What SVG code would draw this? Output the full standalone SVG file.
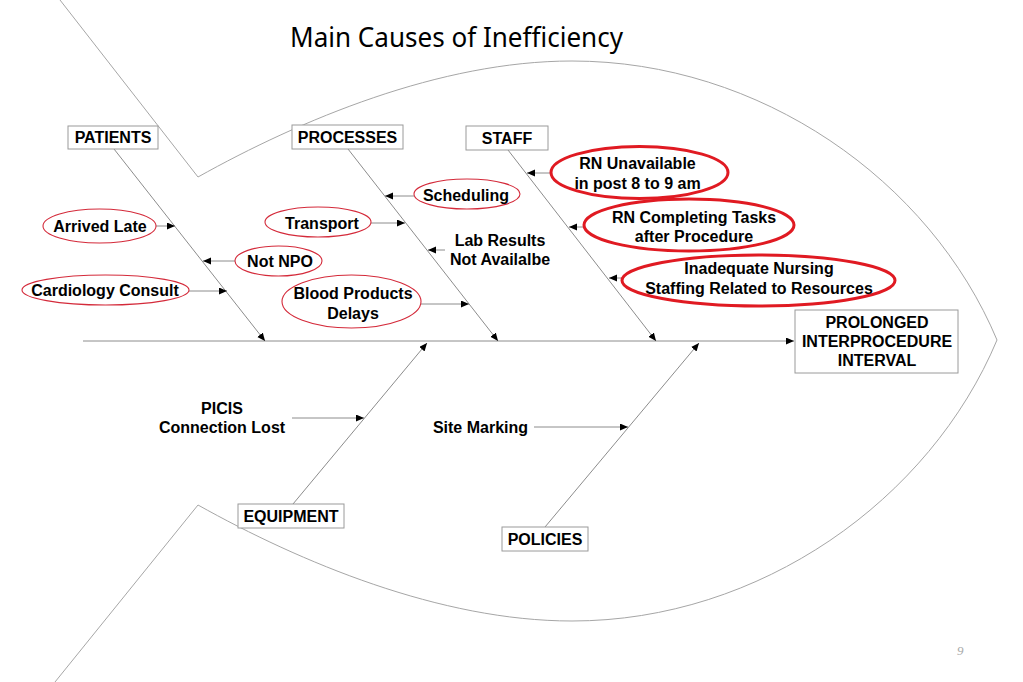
<svg xmlns="http://www.w3.org/2000/svg" width="1023" height="682" viewBox="0 0 1023 682">
<defs>
<marker id="arr" markerUnits="userSpaceOnUse" markerWidth="9" markerHeight="8" refX="8" refY="3.5" orient="auto">
<path d="M0,0 L8,3.5 L0,7 z" fill="#000"/>
</marker>
<style>
.fish{fill:none;stroke:#a6a6a6;stroke-width:1}
.bone{fill:none;stroke:#8c8c8c;stroke-width:1}
.con{fill:none;stroke:#8c8c8c;stroke-width:1;marker-end:url(#arr)}
.box{fill:#fff;stroke:#9a9a9a;stroke-width:1}
.ell{fill:#fff;stroke:#d42a3a;stroke-width:1.1}
.ellb{fill:#fff;stroke:#e01a22;stroke-width:3}
.t{font-family:"Liberation Sans",Arial,sans-serif;font-weight:bold;font-size:16px;fill:#000;text-anchor:middle}
.title{font-family:"Noto Sans","Open Sans",sans-serif;font-size:27px;fill:#000}
.pg{font-family:"Liberation Serif",serif;font-style:italic;font-size:13px;fill:#aaa}
</style>
</defs>
<rect width="1023" height="682" fill="#fff"/>
<text class="title" x="290" y="47" textLength="333" lengthAdjust="spacingAndGlyphs">Main Causes of Inefficiency</text>
<g id="fish">
<path class="fish" d="M60,0 L198,177 C300,120 440,61 572,61 C760,61 930,180 997,340 C930,500 760,621 572,621 C440,621 300,562 198,505 L55,682"/>
</g>
<g id="connectors">
<line class="con" x1="83" y1="341" x2="794" y2="341"/>
<line class="con" x1="114" y1="149" x2="265" y2="341"/>
<line class="con" x1="348" y1="149" x2="498" y2="341"/>
<line class="con" x1="508" y1="150" x2="656" y2="341"/>
<line class="con" x1="293" y1="504" x2="427" y2="343"/>
<line class="con" x1="545" y1="527" x2="699" y2="343"/>
<line class="con" x1="156" y1="226" x2="175" y2="226"/>
<line class="con" x1="235" y1="261" x2="203" y2="261"/>
<line class="con" x1="189" y1="291" x2="227" y2="291"/>
<line class="con" x1="414" y1="196" x2="385" y2="196"/>
<line class="con" x1="371" y1="223" x2="405" y2="223"/>
<line class="con" x1="445" y1="250" x2="428" y2="250"/>
<line class="con" x1="421" y1="304" x2="469" y2="304"/>
<line class="con" x1="568" y1="173" x2="527" y2="173"/>
<line class="con" x1="605" y1="227" x2="569" y2="227"/>
<line class="con" x1="637" y1="278" x2="609" y2="278"/>
<line class="con" x1="292" y1="418" x2="364" y2="418"/>
<line class="con" x1="534" y1="427" x2="628" y2="427"/>
</g>
<g id="patients"><rect class="box" x="68" y="126" width="90" height="23"/><text class="t" x="113" y="143">PATIENTS</text></g>
<g id="processes"><rect class="box" x="292" y="125" width="111" height="24"/><text class="t" x="347.5" y="143">PROCESSES</text></g>
<g id="staff"><rect class="box" x="466" y="126" width="82" height="24"/><text class="t" x="507" y="144">STAFF</text></g>
<g id="equipment"><rect class="box" x="238" y="504" width="106" height="24"/><text class="t" x="291" y="522">EQUIPMENT</text></g>
<g id="policies"><rect class="box" x="502" y="527" width="86" height="24"/><text class="t" x="545" y="545">POLICIES</text></g>
<g id="effect"><rect class="box" x="795" y="310" width="163" height="63"/>
<text class="t" x="877" y="327.5">PROLONGED</text>
<text class="t" x="877" y="346.5">INTERPROCEDURE</text>
<text class="t" x="877" y="366">INTERVAL</text></g>
<g id="arrived-late"><ellipse class="ell" cx="99.5" cy="226" rx="56.5" ry="17"/><text class="t" x="100" y="231.5">Arrived Late</text></g>
<g id="not-npo"><ellipse class="ell" cx="278.5" cy="261" rx="43.5" ry="15"/><text class="t" x="280" y="266.5">Not NPO</text></g>
<g id="cardiology-consult"><ellipse class="ell" cx="105.5" cy="290" rx="83.5" ry="15"/><text class="t" x="105" y="295.5">Cardiology Consult</text></g>
<g id="scheduling"><ellipse class="ell" cx="467" cy="194" rx="53" ry="15"/><text class="t" x="466" y="200.5">Scheduling</text></g>
<g id="transport"><ellipse class="ell" cx="318" cy="222" rx="53" ry="15"/><text class="t" x="322" y="228.5">Transport</text></g>
<g id="lab-results"><text class="t" x="500" y="245.5">Lab Results</text><text class="t" x="500" y="265">Not Availalbe</text></g>
<g id="blood-products"><ellipse class="ell" cx="351.5" cy="301.5" rx="69.5" ry="26.5"/><text class="t" x="353" y="298.5">Blood Products</text><text class="t" x="353" y="318.5">Delays</text></g>
<g id="rn-unavailable"><ellipse class="ellb" cx="639.5" cy="172.5" rx="88.5" ry="26"/><text class="t" x="637.5" y="168.5">RN Unavailable</text><text class="t" x="637.5" y="188.5">in post 8 to 9 am</text></g>
<g id="rn-completing"><ellipse class="ellb" cx="689" cy="225" rx="105" ry="26"/><text class="t" x="694" y="222.5">RN Completing Tasks</text><text class="t" x="694" y="241.5">after Procedure</text></g>
<g id="inadequate-nursing"><ellipse class="ellb" cx="758.5" cy="280.5" rx="136.5" ry="25.5"/><text class="t" x="759" y="273.5">Inadequate Nursing</text><text class="t" x="759" y="293.5">Staffing Related to Resources</text></g>
<g id="picis"><text class="t" x="222" y="413.5">PICIS</text><text class="t" x="222" y="432.5">Connection Lost</text></g>
<g id="site-marking"><text class="t" x="480.5" y="432.5">Site Marking</text></g>
<text class="pg" x="957" y="655">9</text>
</svg>
